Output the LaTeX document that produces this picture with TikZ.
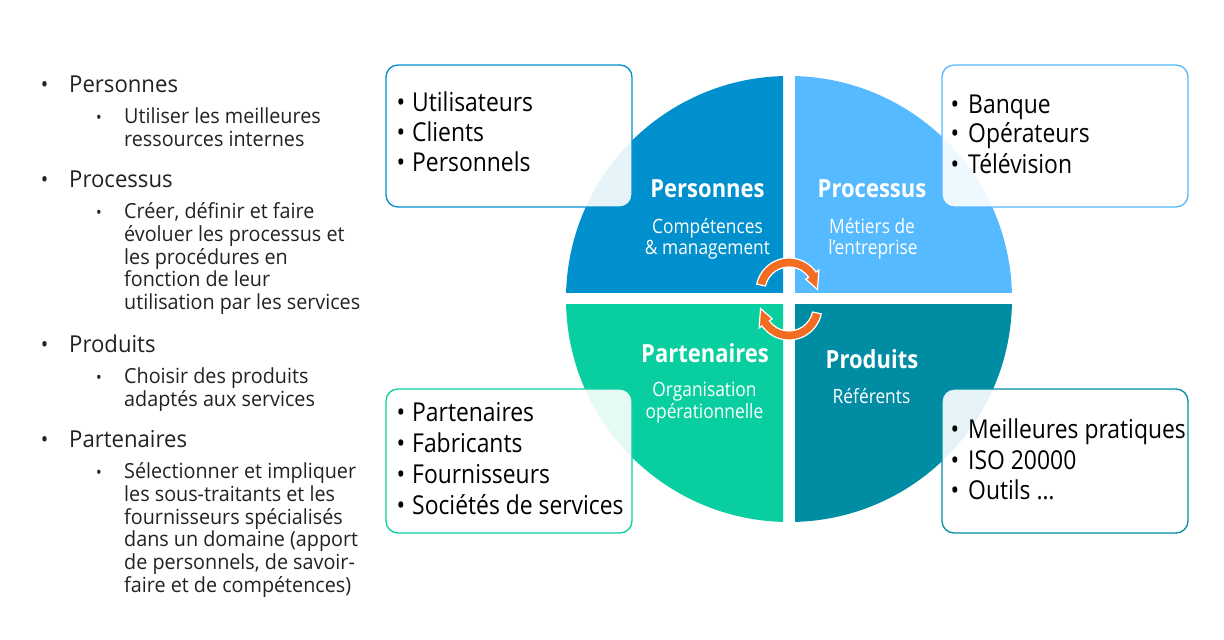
\documentclass[tikz,border=0pt]{standalone}
\usepackage{fontspec}
\setmainfont{Open Sans}[FakeStretch=0.88]
\newfontfamily\listfont{Open Sans}[FakeStretch=0.95]
\usetikzlibrary{calc}
\definecolor{cpers}{HTML}{0090CE}
\definecolor{cproc}{HTML}{55BAFF}
\definecolor{cpart}{HTML}{09CFA0}
\definecolor{cprod}{HTML}{008DA4}
\definecolor{corange}{HTML}{F26D21}
\definecolor{ctext}{HTML}{222222}
\begin{document}
\begin{tikzpicture}[x=1pt,y=1pt,
  maintxt/.style={anchor=base west,inner sep=0pt,text=ctext,font=\listfont\fontsize{23.3}{27}\selectfont},
  subtxt/.style={anchor=base west,inner sep=0pt,text=ctext,font=\listfont\fontsize{20.8}{23}\selectfont},
  mainbul/.style={anchor=base,inner sep=0pt,text=ctext,font=\fontsize{22.5}{27}\selectfont},
  subbul/.style={anchor=base,inner sep=0pt,text=ctext,font=\fontsize{17}{23}\selectfont},
  boxtxt/.style={anchor=base west,inner sep=0pt,text=black,font=\fontsize{26}{30}\selectfont},
  boxbul/.style={anchor=base,inner sep=0pt,text=black,font=\fontsize{26}{30}\selectfont},
  qtitle/.style={anchor=base,inner sep=0pt,text=white,font=\bfseries\fontsize{25}{30}\selectfont},
  qsub/.style={anchor=base,inner sep=0pt,text=white,font=\fontsize{19.7}{22}\selectfont},
  listbox/.style={rounded corners=12pt,fill=white,fill opacity=0.9,line width=1.3pt},
  cyclearrow/.style={fill=corange,draw=white,line width=1.2pt,line join=miter}
]
\useasboundingbox (0,0) rectangle (1224,640);
\fill[white] (0,0) rectangle (1224,640);

% ---- left column: bullet list ----
\foreach \i/\yy/\t in {1/92.7/Personnes,2/187.7/Processus,3/352.7/Produits,4/447.3/Partenaires}{
  \node[mainbul] (mb\i) at (44.5,{640-\yy}) {•};
  \node[maintxt] (m\i) at (69,{640-\yy}) {\t};
}
\foreach \i/\yy in {1/124,2/219,3/384,4/479}{
  \node[subbul] (sb\i) at (99,{640-\yy}) {•};
}
\foreach \i/\yy/\t in {
  1/124/{Utiliser les meilleures},
  2/146.7/{ressources internes},
  3/219/{Créer, définir et faire},
  4/241.7/{évoluer les processus et},
  5/264.3/{les procédures en},
  6/287/{fonction de leur},
  7/310/{utilisation par les services},
  8/384/{Choisir des produits},
  9/406.7/{adaptés aux services},
  10/479/{Sélectionner et impliquer},
  11/501.7/{les sous-traitants et les},
  12/524.3/{fournisseurs spécialisés},
  13/547/{dans un domaine (apport},
  14/569.7/{de personnels, de savoir-},
  15/592.3/{faire et de compétences)}}{
  \node[subtxt] (s\i) at (124,{640-\yy}) {\t};
}

% ---- central circle, split in four quadrants ----
\coordinate (O) at (789,341);
\begin{scope}
  \clip (0,347) rectangle (783,640);
  \fill[cpers] (O) circle[radius=223pt];
\end{scope}
\begin{scope}
  \clip (795,347) rectangle (1224,640);
  \fill[cproc] (O) circle[radius=223pt];
\end{scope}
\begin{scope}
  \clip (0,0) rectangle (783,335);
  \fill[cpart] (O) circle[radius=223pt];
\end{scope}
\begin{scope}
  \clip (795,0) rectangle (1224,335);
  \fill[cprod] (O) circle[radius=223pt];
\end{scope}

% ---- quadrant labels ----
\node[qtitle] (tpers) at (707.5,{640-197.3}) {Personnes};
\node[qsub] (spers1) at (707.5,{640-233.3}) {Compétences};
\node[qsub] (spers2) at (707.5,{640-254.3}) {\& management};
\node[qtitle] (tproc) at (872,{640-197.3}) {Processus};
\node[qsub] (sproc1) at (872,{640-233.3}) {Métiers de};
\node[qsub] (sproc2) at (873,{640-254.3}) {l’entreprise};
\node[qtitle] (tpart) at (705,{640-362.3}) {Partenaires};
\node[qsub] (spart1) at (704.5,{640-396.7}) {Organisation};
\node[qsub] (spart2) at (704.5,{640-418.3}) {opérationnelle};
\node[qtitle] (tprod) at (872,{640-368.3}) {Produits};
\node[qsub] (sprod1) at (871.5,{640-403.3}) {Référents};

% ---- cycle arrows ----
\begin{scope}[shift={(789,349)}]
  \path[cyclearrow] (168:33) arc[start angle=168,end angle=35,radius=33pt]
    -- (35:36.5) -- (3:28.5) -- (35:20.5) -- (35:24)
    arc[start angle=35,end angle=168,radius=24pt] -- cycle;
\end{scope}
\begin{scope}[shift={(789,333)}]
  \path[cyclearrow] (-12:33) arc[start angle=-12,end angle=-145,radius=33pt]
    -- (-145:36.5) -- (-177:28.5) -- (-145:20.5) -- (-145:24)
    arc[start angle=-145,end angle=-12,radius=24pt] -- cycle;
\end{scope}

% ---- corner boxes ----
\node[listbox,draw=cpers,minimum width=246pt,minimum height=142pt] (bpers) at (509,{640-136}) {};
\node[listbox,draw=cproc,minimum width=246pt,minimum height=142pt] (bproc) at (1065,{640-136}) {};
\node[listbox,draw=cpart,minimum width=246pt,minimum height=144pt] (bpart) at (509,{640-461}) {};
\node[listbox,draw=cprod,minimum width=246pt,minimum height=144pt] (bprod) at (1065,{640-461}) {};

\foreach \i/\yy/\t in {1/111.7/Utilisateurs,2/141.7/Clients,3/171.7/Personnels}{
  \node[boxbul] (pb\i) at (401,{640-\yy}) {•};
  \node[boxtxt] (p\i) at (412,{640-\yy}) {\t};
}
\foreach \i/\yy/\t in {1/113.3/Banque,2/142.7/Opérateurs,3/173.3/Télévision}{
  \node[boxbul] (qb\i) at (955,{640-\yy}) {•};
  \node[boxtxt] (q\i) at (968,{640-\yy}) {\t};
}
\foreach \i/\yy/\t in {1/421.7/Partenaires,2/452.7/Fabricants,3/483.3/Fournisseurs,4/514.3/{Sociétés de services}}{
  \node[boxbul] (rb\i) at (401,{640-\yy}) {•};
  \node[boxtxt] (r\i) at (412,{640-\yy}) {\t};
}
\foreach \i/\yy/\t in {1/438.3/{Meilleures pratiques},2/469.3/{ISO 20000},3/499.3/{Outils …}}{
  \node[boxbul] (ub\i) at (955,{640-\yy}) {•};
  \node[boxtxt] (u\i) at (968,{640-\yy}) {\t};
}
\end{tikzpicture}
\end{document}
